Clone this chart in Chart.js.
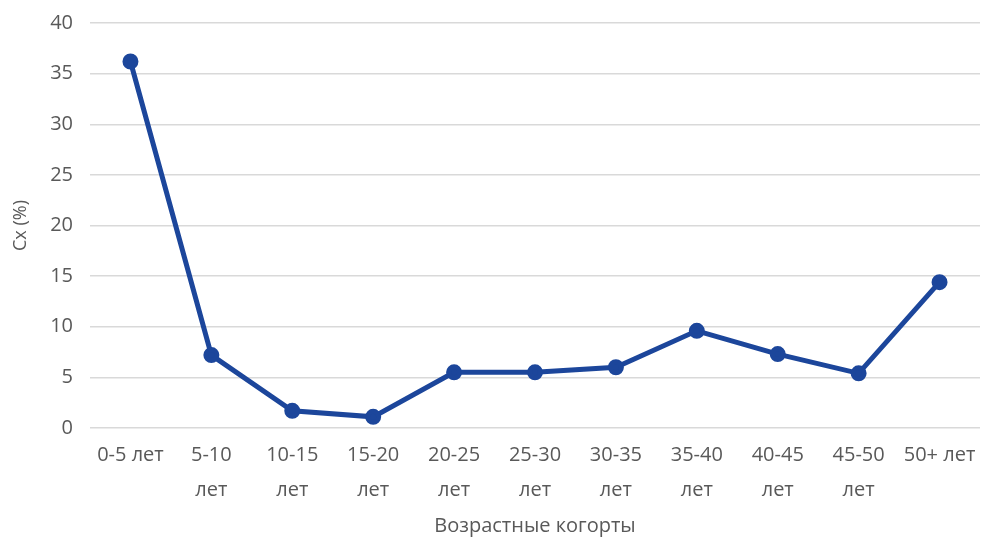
<!DOCTYPE html>
<html>
<head>
<meta charset="utf-8">
<script src="https://cdn.jsdelivr.net/npm/chart.js@4"></script>
<style>
  html, body { margin: 0; padding: 0; background: #fff; }
  #wrap { width: 981px; height: 540px; }
</style>
</head>
<body>
<div id="wrap"><canvas id="cx-chart"></canvas></div>
<script>
// cohort labels (multi-line like the original)
const cohorts = [
  "0-5 лет", ["5-10", "лет"], ["10-15", "лет"], ["15-20", "лет"], ["20-25", "лет"],
  ["25-30", "лет"], ["30-35", "лет"], ["35-40", "лет"], ["40-45", "лет"], ["45-50", "лет"], "50+ лет"
];
const cxValues = [36.2, 7.2, 1.7, 1.1, 5.5, 5.5, 6.0, 9.6, 7.3, 5.4, 14.4];
const yTicks = [0, 5, 10, 15, 20, 25, 30, 35, 40];

const txt = "#595959";
const font = { family: "'Open Sans', sans-serif", size: 20 };

var ctx = document.getElementById('cx-chart').getContext('2d');
var myChart = new Chart(ctx, {
  type: 'line',
  data: {
    labels: cohorts,
    datasets: [{
      label: 'Cx (%)',
      data: cxValues,
      borderColor: "#1c469b",
      backgroundColor: "#1c469b",
      borderWidth: 5,
      pointRadius: 5.5,
      pointHoverRadius: 5.5,
      tension: 0
    }]
  },
  options: {
    responsive: true,
    maintainAspectRatio: false,
    animation: false,
    layout: { autoPadding: false, padding: { top: 23, right: 1, left: 10, bottom: 0 } },
    plugins: { legend: { display: false }, tooltip: { enabled: false } },
    scales: {
      x: {
        offset: true,
        grid: { display: false, drawTicks: false, offset: true },
        border: { display: false },
        ticks: { color: txt, font: Object.assign({}, font, { lineHeight: 1.75 }), padding: 10, maxRotation: 0, autoSkip: false },
        title: { display: true, text: "Возрастные когорты", color: txt, font: font, padding: { top: 0, bottom: 2 } },
        afterFit: function(scale) {
          scale.height = 112;
          scale.paddingLeft = 0;
          scale.paddingRight = 0;
        }
      },
      y: {
        min: 0, max: 40,
        afterBuildTicks: function(scale) { scale.ticks = yTicks.map(v => ({ value: v })); },
        grid: { color: "#d9d9d9", lineWidth: 1.5, drawTicks: false },
        border: { display: false },
        ticks: { color: txt, font: font, padding: 17 },
        title: { display: true, text: "Cx (%)", color: txt, font: Object.assign({}, font, { size: 18 }), padding: 0 },
        afterFit: function(scale) {
          scale.width = 80;
          scale.paddingTop = 0;
          scale.paddingBottom = 0;
        }
      }
    }
  }
});
</script>
</body>
</html>
